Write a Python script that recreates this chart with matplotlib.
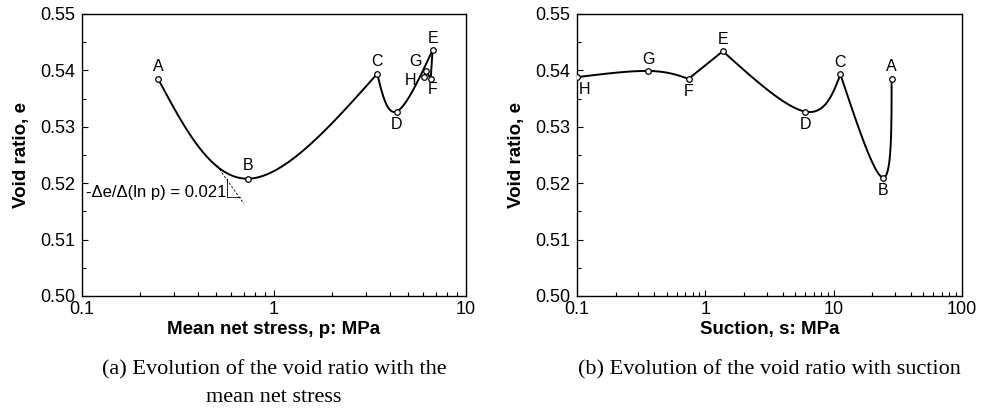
import matplotlib
matplotlib.use('Agg')
import matplotlib.pyplot as plt
import numpy as np
from matplotlib.ticker import LogLocator, FixedLocator, NullFormatter

plt.rcParams['font.family'] = ['Liberation Sans', 'DejaVu Sans']

# data
labels = ['A', 'B', 'C', 'D', 'E', 'F', 'G', 'H']
p_net = [0.25, 0.735, 3.45, 4.35, 6.7, 6.55, 6.2, 6.05]
e_p = [0.5384, 0.5208, 0.5394, 0.5327, 0.5436, 0.5385, 0.5399, 0.5389]
suction = [28.3, 24.3, 11.3, 6.0, 1.37, 0.74, 0.36, 0.1]
e_s = [0.5385, 0.5210, 0.5393, 0.5327, 0.5434, 0.5385, 0.5399, 0.5388]

# pieces of the path drawn as one smooth curve each (indices into labels)
groups_p = [[0, 1, 2], [2, 3, 4], [4, 5], [5, 6], [6, 7]]
groups_s = [[2, 1, 0], [2, 3, 4], [4, 5], [5, 6, 7]]

# label offsets in points
off_p = [(0, 9), (0, 9.4), (0, 9), (0, -9.6), (0, 8.1), (1.2, -7.6), (-7.7, 6.7), (-9.9, -3.1)]
off_s = [(0, 8.9), (0, -9.1), (0, 8.6), (0, -9.1), (0, 8.4), (0, -8.9), (0, 8.6), (5.5, -8.9)]

slope_val = 0.021
tan_p = [0.505, 0.695]
tan_e0 = 0.5231


def smooth(xs, ys, n=60):
    # cubic Hermite through the points in (log x, y)
    P = np.column_stack([np.log10(xs), np.asarray(ys, float)])
    if len(P) == 2:
        return 10 ** P[:, 0], P[:, 1]
    T = np.zeros_like(P)
    for i in range(1, len(P) - 1):
        T[i] = (P[i + 1] - P[i - 1]) / 2
    T[0] = 1.5 * (P[1] - P[0]) - 0.5 * T[1]
    T[-1] = 1.5 * (P[-1] - P[-2]) - 0.5 * T[-2]
    t = np.linspace(0, 1, n)[:, None]
    h00 = 2 * t**3 - 3 * t**2 + 1
    h10 = t**3 - 2 * t**2 + t
    h01 = -2 * t**3 + 3 * t**2
    h11 = t**3 - t**2
    out = np.vstack([h00 * P[i] + h10 * T[i] + h01 * P[i + 1] + h11 * T[i + 1]
                     for i in range(len(P) - 1)])
    return 10 ** out[:, 0], out[:, 1]


def style_ax(ax, xlim, xlabel):
    ax.set_xscale('log')
    ax.set_xlim(*xlim)
    ax.set_ylim(0.50, 0.55)
    ax.set_yticks([0.50, 0.51, 0.52, 0.53, 0.54, 0.55])
    ax.set_yticklabels(['0.50', '0.51', '0.52', '0.53', '0.54', '0.55'])
    ax.yaxis.set_minor_locator(FixedLocator([0.505, 0.515, 0.525, 0.535, 0.545]))
    ax.xaxis.set_minor_locator(LogLocator(base=10, subs=np.arange(2, 10)))
    ax.xaxis.set_minor_formatter(NullFormatter())
    ticks = [t for t in [0.1, 1, 10, 100] if xlim[0] <= t <= xlim[1]]
    ax.set_xticks(ticks)
    ax.set_xticklabels(['%g' % t for t in ticks])
    ax.tick_params(which='major', direction='in', length=4.5, width=0.8,
                   labelsize=13, top=False, right=False)
    ax.tick_params(axis='x', which='major', pad=3.5)
    ax.tick_params(axis='y', which='major', pad=5)
    ax.tick_params(which='minor', direction='in', length=3, width=0.8,
                   top=False, right=False)
    for s in ax.spines.values():
        s.set_linewidth(1.0)
    ax.set_xlabel(xlabel, fontsize=13.5, fontweight='bold', labelpad=2)
    ax.set_ylabel('Void ratio, e', fontsize=13.5, fontweight='bold', labelpad=7)


def draw(ax, xs, ys, groups, offs):
    for g in groups:
        cx, cy = smooth([xs[i] for i in g], [ys[i] for i in g])
        ax.plot(cx, cy, color='black', lw=1.4, zorder=2)
    ax.plot(xs, ys, 'o', ls='none', ms=4, mfc='white', mec='black', mew=0.9, zorder=3)
    for lab, x, y, o in zip(labels, xs, ys, offs):
        ax.annotate(lab, (x, y), xytext=o, textcoords='offset points',
                    ha='center', va='center', fontsize=11.5)


fig = plt.figure(figsize=(9.87, 4.09), dpi=100)
ax1 = fig.add_axes([0.0831, 0.2763, 0.389, 0.6895])
ax2 = fig.add_axes([0.5846, 0.2763, 0.390, 0.6895])

style_ax(ax1, (0.1, 10), 'Mean net stress, p: MPa')
style_ax(ax2, (0.1, 100), 'Suction, s: MPa')

draw(ax1, p_net, e_p, groups_p, off_p)
draw(ax2, suction, e_s, groups_s, off_s)

# tangent line and slope triangle at B
tp = np.array(tan_p)
te = tan_e0 - slope_val * np.log(tp / tan_p[0])
ax1.plot(tp, te, color='black', lw=0.6, ls=(0, (3, 2)), zorder=1)
ax1.plot([0.57, 0.57, 0.668], [0.5208, 0.5175, 0.5175], color='black', lw=0.6)
ax1.text(0.1049, 0.5183, '-\u0394e/\u0394(ln p) = %.3f' % slope_val,
         ha='left', va='center', fontsize=12)

cap = dict(ha='center', va='center', fontsize=16, family=['Liberation Serif', 'DejaVu Serif'])
fig.text(0.2776, 1 - 370 / 409, '(a) Evolution of the void ratio with the', **cap)
fig.text(0.2776, 1 - 397 / 409, 'mean net stress', **cap)
fig.text(0.780, 1 - 370 / 409, '(b) Evolution of the void ratio with suction', **cap)

fig.savefig('out.png', dpi=100)
